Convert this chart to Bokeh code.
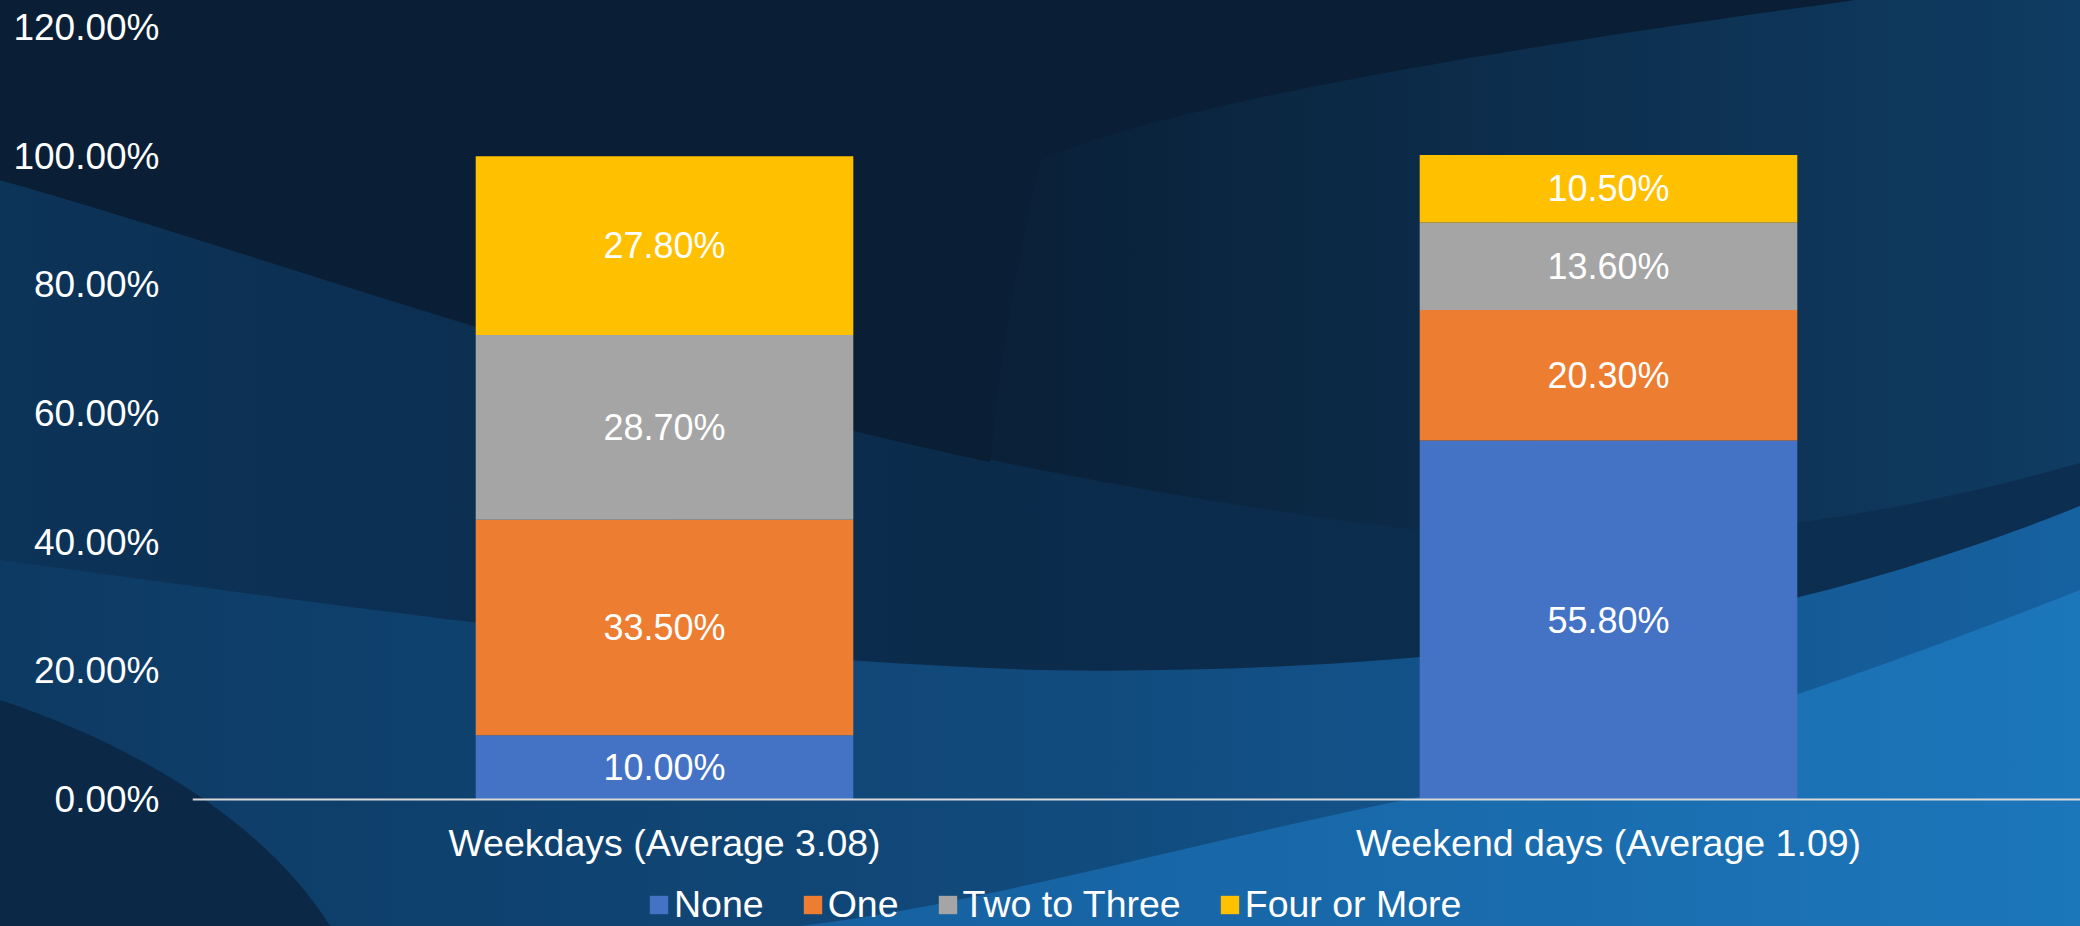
import numpy as np
from urllib.parse import quote
from bokeh.plotting import figure
from bokeh.models import (ColumnDataSource, FactorRange, Range1d, FixedTicker,
                          NumeralTickFormatter)
from bokeh.core.properties import value
from bokeh.embed import file_html
from bokeh.resources import INLINE

# ---------------- data ----------------
categories = ["Weekdays (Average 3.08)", "Weekend days (Average 1.09)"]
series_names = ["None", "One", "Two to Three", "Four or More"]
series_keys = ["none", "one", "two_three", "four_more"]
none_pct = [10.0, 55.8]
one_pct = [33.5, 20.3]
two_three_pct = [28.7, 13.6]
four_more_pct = [27.8, 10.5]
y_ticks = [0.0, 0.2, 0.4, 0.6, 0.8, 1.0, 1.2]
colors = ["#4472C4", "#ED7D31", "#A5A5A5", "#FFC000"]

FONT = "Liberation Sans"

values = [none_pct, one_pct, two_three_pct, four_more_pct]
data = {"cat": categories}
for k, v in zip(series_keys, values):
    data[k] = [x / 100.0 for x in v]
src = ColumnDataSource(data)

# label positions (segment mid-points) from the data
lab_x, lab_y, lab_t = [], [], []
arr = np.array(values) / 100.0
cum = np.cumsum(arr, axis=0)
for si in range(arr.shape[0]):
    for ci, c in enumerate(categories):
        lab_x.append(c)
        lab_y.append(cum[si, ci] - arr[si, ci] / 2.0)
        lab_t.append(f"{values[si][ci]:.2f}%")
lab_src = ColumnDataSource(dict(x=lab_x, y=lab_y, t=lab_t))

# ---------------- figure ----------------
W, H = 2080, 926
p = figure(width=W, height=H, x_range=FactorRange(*categories, range_padding=0),
           y_range=Range1d(-0.1974, 1.2), output_backend="svg", toolbar_location=None,
           min_border_left=192, min_border_right=0, min_border_top=27,
           min_border_bottom=0)
p.border_fill_color = None
p.background_fill_color = None
p.outline_line_color = None
p.grid.visible = False

# decorative wave background (CSS)
svg = f'''<svg xmlns="http://www.w3.org/2000/svg" width="{W}" height="{H}" viewBox="0 0 2080 926" preserveAspectRatio="none">
<defs>
<linearGradient id="gmid" x1="0" y1="0" x2="1" y2="0"><stop offset="0" stop-color="#0c3358"/><stop offset="0.45" stop-color="#0b2b4b"/><stop offset="1" stop-color="#0c2f51"/></linearGradient>
<linearGradient id="gtop" x1="0" y1="0" x2="1" y2="0"><stop offset="0" stop-color="#0a1f36"/><stop offset="0.5" stop-color="#0a2139"/><stop offset="1" stop-color="#0f3c63"/></linearGradient>
<linearGradient id="glow" x1="0" y1="0" x2="1" y2="0"><stop offset="0" stop-color="#0d3a63"/><stop offset="0.5" stop-color="#114a7c"/><stop offset="1" stop-color="#1661a0"/></linearGradient>
<linearGradient id="gbot" x1="0" y1="0" x2="1" y2="0"><stop offset="0" stop-color="#16609f"/><stop offset="1" stop-color="#1c76ba"/></linearGradient>
</defs>
<rect x="0" y="0" width="2080" height="926" fill="url(#gmid)"/>
<path d="M0,0 H2080 V463 C1950,500 1800,530 1620,540 C1500,545 1300,520 1040,470 C600,380 250,250 0,180 Z" fill="url(#gtop)"/>
<path d="M0,0 H1856 C1450,55 1150,110 1040,160 C1020,250 1000,350 990,462 C600,380 250,250 0,180 Z" fill="#0a1f36"/>
<path d="M0,560 C300,600 700,660 1040,670 C1300,675 1600,650 1803,596 C1950,560 2080,506 2080,506 V926 H0 Z" fill="url(#glow)"/>
<path d="M800,926 C980,905 1200,840 1425,796 C1650,750 1850,680 2080,590 V926 Z" fill="url(#gbot)"/>
<path d="M0,700 C150,750 270,830 330,926 H0 Z" fill="#0b2947"/>
</svg>'''
p.styles = {
    "background-image": f'url("data:image/svg+xml;utf8,{quote(svg)}")',
    "background-size": "100% 100%",
    "background-repeat": "no-repeat",
}

# ---------------- bars ----------------
p.vbar_stack(series_keys, x="cat", width=0.4, color=colors, source=src,
             line_color=None, legend_label=series_names)

p.text(x="x", y="y", text="t", source=lab_src, text_font=value(FONT),
       text_font_size="36px", text_color="white", text_align="center",
       text_baseline="middle")

# ---------------- axes ----------------
yax = p.yaxis[0]
yax.ticker = FixedTicker(ticks=y_ticks)
yax.formatter = NumeralTickFormatter(format="0.00%")
yax.axis_line_color = None
yax.major_tick_line_color = None
yax.minor_tick_line_color = None
yax.major_label_text_font = FONT
yax.major_label_text_font_size = "37px"
yax.major_label_text_color = "white"
yax.major_label_standoff = 27

xax = p.xaxis[0]
xax.fixed_location = 0
xax.axis_line_color = "#d9d9d9"
xax.axis_line_width = 2
xax.major_tick_line_color = None
xax.minor_tick_line_color = None
xax.major_label_text_font = FONT
xax.major_label_text_font_size = "37.5px"
xax.major_label_text_color = "white"
xax.major_label_standoff = 16

# ---------------- legend ----------------
lg = p.legend[0]
lg.orientation = "horizontal"
lg.location = (455, 0)
lg.label_text_font = FONT
lg.label_text_font_size = "37.5px"
lg.label_text_color = "white"
lg.glyph_width = 23
lg.glyph_height = 23
lg.label_standoff = 4
lg.spacing = 37
lg.padding = 0
lg.margin = 0
lg.background_fill_color = None
lg.border_line_color = None

open("out.html", "w").write(file_html(p, INLINE))
